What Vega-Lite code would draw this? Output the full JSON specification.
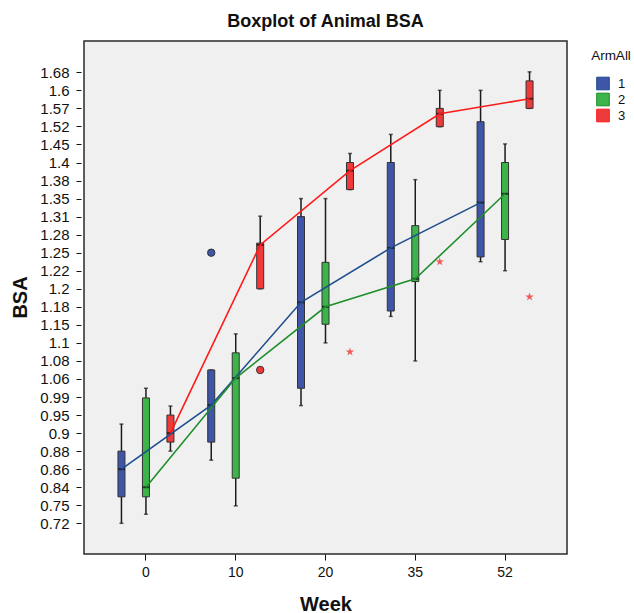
{
  "$schema": "https://vega.github.io/schema/vega-lite/v6.json",
  "width": 483,
  "height": 513,
  "autosize": {"type": "none"},
  "padding": {"left": 84, "top": 41, "right": 67, "bottom": 59},
  "background": "white",
  "title": {"text": "Boxplot of Animal BSA", "font": "Liberation Sans", "fontSize": 18, "fontWeight": "bold", "color": "#111111", "anchor": "middle", "baseline": "alphabetic", "offset": -4},
  "config": {
    "view": {"fill": "#F0F0F0", "stroke": "#2a2a2a", "strokeWidth": 1.5},
    "font": "Liberation Sans",
    "axis": {"grid": false, "domain": false, "tickColor": "#111111", "labelColor": "#111111", "titleColor": "#111111", "labelFont": "Liberation Sans", "titleFont": "Liberation Sans"},
    "legend": {"labelFont": "Liberation Sans", "titleFont": "Liberation Sans"}
  },
  "datasets": {
    "boxes": [
      {"week": 0, "arm": "1", "lower": 0.72, "q1": 0.792, "median": 0.86, "q3": 0.88, "upper": 0.925},
      {"week": 0, "arm": "2", "lower": 0.735, "q1": 0.792, "median": 0.84, "q3": 0.988, "upper": 1.024},
      {"week": 0, "arm": "3", "lower": 0.88, "q1": 0.89, "median": 0.9, "q3": 0.95, "upper": 0.97},
      {"week": 10, "arm": "1", "lower": 0.87, "q1": 0.89, "median": 0.972, "q3": 1.07, "upper": 1.07},
      {"week": 10, "arm": "2", "lower": 0.749, "q1": 0.85, "median": 1.061, "q3": 1.089, "upper": 1.125},
      {"week": 10, "arm": "3", "lower": 1.2, "q1": 1.2, "median": 1.263, "q3": 1.266, "upper": 1.311},
      {"week": 20, "arm": "1", "lower": 0.971, "q1": 1.024, "median": 1.185, "q3": 1.31, "upper": 1.35},
      {"week": 20, "arm": "2", "lower": 1.1, "q1": 1.151, "median": 1.18, "q3": 1.234, "upper": 1.35},
      {"week": 20, "arm": "3", "lower": 1.365, "q1": 1.365, "median": 1.391, "q3": 1.4, "upper": 1.425},
      {"week": 35, "arm": "1", "lower": 1.164, "q1": 1.173, "median": 1.258, "q3": 1.4, "upper": 1.489},
      {"week": 35, "arm": "2", "lower": 1.08, "q1": 1.208, "median": 1.211, "q3": 1.295, "upper": 1.381},
      {"week": 35, "arm": "3", "lower": 1.519, "q1": 1.519, "median": 1.555, "q3": 1.57, "upper": 1.6},
      {"week": 52, "arm": "1", "lower": 1.235, "q1": 1.243, "median": 1.341, "q3": 1.533, "upper": 1.6},
      {"week": 52, "arm": "2", "lower": 1.22, "q1": 1.272, "median": 1.358, "q3": 1.4, "upper": 1.452},
      {"week": 52, "arm": "3", "lower": 1.57, "q1": 1.57, "median": 1.586, "q3": 1.642, "upper": 1.682}
    ],
    "outliers": [
      {"week": 10, "arm": "1", "value": 1.25, "kind": "outlier"},
      {"week": 10, "arm": "3", "value": 1.07, "kind": "outlier"},
      {"week": 20, "arm": "3", "value": 1.09, "kind": "extreme"},
      {"week": 35, "arm": "3", "value": 1.235, "kind": "extreme"},
      {"week": 52, "arm": "3", "value": 1.191, "kind": "extreme"}
    ]
  },
  "encoding": {
    "x": {"field": "week", "type": "ordinal", "title": "Week",
      "scale": {"paddingInner": 0, "paddingOuter": 0.19},
      "axis": {"labelAngle": 0, "labelFontSize": 14, "tickSize": 6, "labelPadding": 5, "titleFontSize": 20, "titleFontWeight": "bold", "titleY": 56, "titleBaseline": "alphabetic"}},
    "xOffset": {"field": "arm", "type": "nominal", "scale": {"paddingInner": 0, "paddingOuter": 0.333}}
  },
  "layer": [
    {
      "data": {"name": "boxes"},
      "mark": {"type": "rule", "color": "#1a1a1a", "strokeWidth": 1.5},
      "encoding": {
        "y": {"field": "lower", "type": "quantitative", "title": "BSA",
          "scale": {"domain": [0.669, 0.72, 0.75, 0.84, 0.86, 0.88, 0.9, 0.95, 0.99, 1.06, 1.08, 1.1, 1.15, 1.18, 1.2, 1.22, 1.25, 1.28, 1.31, 1.35, 1.38, 1.4, 1.45, 1.52, 1.57, 1.6, 1.68, 1.819],
            "range": [513, 482.3, 464.26, 446.22, 428.18, 410.14, 392.1, 374.06, 356.02, 337.98, 319.94, 301.9, 283.86, 265.82, 247.78, 229.74, 211.7, 193.66, 175.62, 157.58, 139.54, 121.5, 103.46, 85.42, 67.38, 49.34, 31.3, 0], "nice": false, "zero": false},
          "axis": {"values": [0.72, 0.75, 0.84, 0.86, 0.88, 0.9, 0.95, 0.99, 1.06, 1.08, 1.1, 1.15, 1.18, 1.2, 1.22, 1.25, 1.28, 1.31, 1.35, 1.38, 1.4, 1.45, 1.52, 1.57, 1.6, 1.68],
            "tickCount": 40, "labelExpr": "toString(datum.value)", "labelFontSize": 15, "tickSize": 5, "offset": 3, "labelPadding": 7, "labelOverlap": false, "labelFlush": false,
            "titleFontSize": 20, "titleFontWeight": "bold", "titleX": -61, "titleY": 256, "titleAngle": -90, "titleBaseline": "middle", "titleAlign": "center"}},
        "y2": {"field": "upper"}
      }
    },
    {
      "data": {"name": "boxes"},
      "mark": {"type": "tick", "color": "#1a1a1a", "size": 4, "thickness": 1.5},
      "encoding": {
        "y": {"field": "upper", "type": "quantitative", "title": "BSA"}
      }
    },
    {
      "data": {"name": "boxes"},
      "mark": {"type": "tick", "color": "#1a1a1a", "size": 4, "thickness": 1.5},
      "encoding": {
        "y": {"field": "lower", "type": "quantitative", "title": "BSA"}
      }
    },
    {
      "data": {"name": "boxes"},
      "mark": {"type": "bar", "width": 7, "stroke": "#333333", "strokeWidth": 1},
      "encoding": {
        "y": {"field": "q1", "type": "quantitative", "title": "BSA"},
        "y2": {"field": "q3"},
        "fill": {"field": "arm", "type": "nominal",
          "scale": {"domain": ["1", "2", "3"], "range": ["#3E55A8", "#3CB44A", "#EE3A3A"]},
          "legend": {"title": "ArmAll", "orient": "none", "legendX": 507, "legendY": 8, "symbolType": "square", "symbolSize": 160, "symbolStrokeColor": "#222222", "symbolStrokeWidth": 1, "symbolOpacity": 1, "titleFontSize": 13.5, "titleFontWeight": "normal", "titleColor": "#111111", "labelFontSize": 13, "labelColor": "#111111", "titleAnchor": "middle", "titlePadding": 14, "rowPadding": -3, "labelOffset": 8, "padding": 0}}
      }
    },
    {
      "data": {"name": "boxes"},
      "mark": {"type": "tick", "color": "#111111", "size": 7, "thickness": 2},
      "encoding": {
        "y": {"field": "median", "type": "quantitative", "title": "BSA"}
      }
    },
    {
      "data": {"name": "boxes"},
      "mark": {"type": "line", "strokeWidth": 1.6},
      "encoding": {
        "y": {"field": "median", "type": "quantitative", "title": "BSA"},
        "stroke": {"field": "arm", "type": "nominal", "scale": {"domain": ["1", "2", "3"], "range": ["#1E4E8E", "#1F8F2B", "#FF1A1A"]}, "legend": null}
      }
    },
    {
      "data": {"name": "outliers"},
      "transform": [{"filter": "datum.kind === 'outlier'"}],
      "mark": {"type": "point", "shape": "circle", "filled": true, "size": 55, "stroke": "#333333", "strokeWidth": 1, "opacity": 1},
      "encoding": {
        "y": {"field": "value", "type": "quantitative", "title": "BSA"},
        "fill": {"field": "arm", "type": "nominal"}
      }
    },
    {
      "data": {"name": "outliers"},
      "transform": [{"filter": "datum.kind === 'extreme'"}],
      "mark": {"type": "point", "shape": "M0,-1L0.22,-0.3L0.95,-0.31L0.36,0.12L0.59,0.81L0,0.38L-0.59,0.81L-0.36,0.12L-0.95,-0.31L-0.22,-0.3Z", "filled": true, "size": 80, "color": "#F05A5A", "opacity": 1},
      "encoding": {
        "y": {"field": "value", "type": "quantitative", "title": "BSA"}
      }
    }
  ]
}
